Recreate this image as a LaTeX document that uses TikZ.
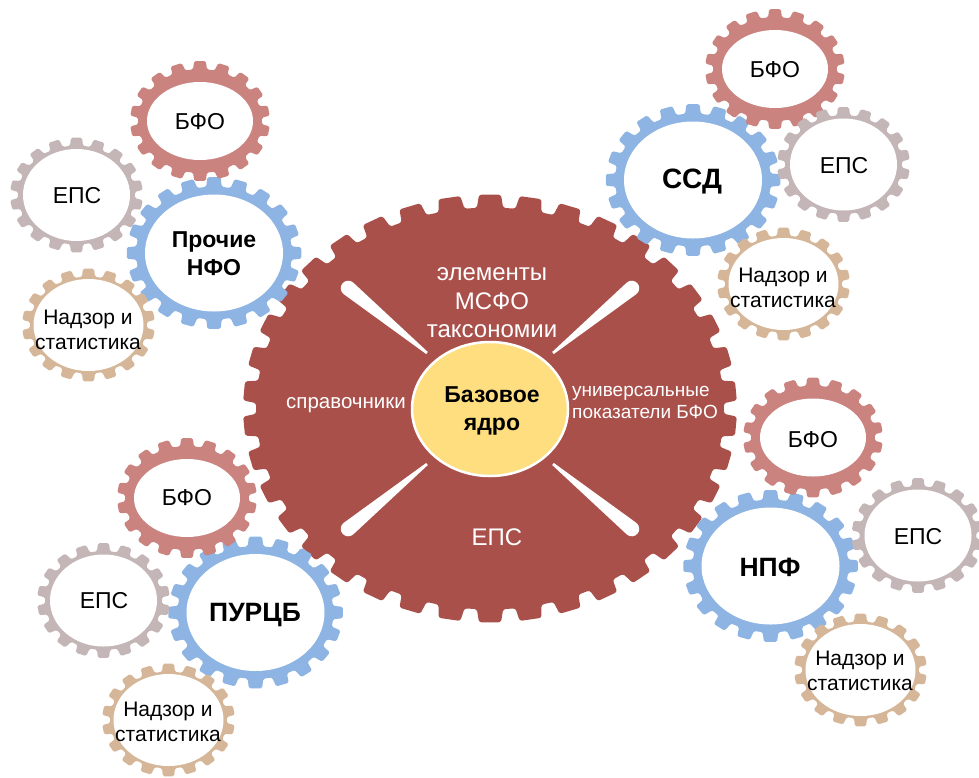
\documentclass[tikz,border=0pt]{standalone}
\usepackage{fontspec}
\setmainfont{Liberation Sans}
\definecolor{gRed}{RGB}{169,80,75}
\definecolor{gYel}{RGB}{255,222,128}
\definecolor{gBlue}{RGB}{141,180,226}
\definecolor{gPink}{RGB}{202,131,126}
\definecolor{gGrey}{RGB}{196,182,183}
\definecolor{gTan}{RGB}{214,182,152}
\newcommand\rootw{0.32}
\newcommand\tipw{0.24}
% #1 options, #2 cx, #3 cy, #4 rx, #5 ry, #6 depth, #7 teeth, #8 phase
\newcommand\gearpath[8]{%
 \path[#1] ({#2+(#4-#6)*cos(#8+180/#7)},{#3+(#5-#6)*sin(#8+180/#7)})
  \foreach \k in {1,...,#7}{
   -- ({#2+(#4-#6)*cos(#8+(\k-\rootw)*360/#7)},{#3+(#5-#6)*sin(#8+(\k-\rootw)*360/#7)})
   -- ({#2+#4*cos(#8+(\k-\tipw)*360/#7)},{#3+#5*sin(#8+(\k-\tipw)*360/#7)})
   -- ({#2+#4*cos(#8+(\k+\tipw)*360/#7)},{#3+#5*sin(#8+(\k+\tipw)*360/#7)})
   -- ({#2+(#4-#6)*cos(#8+(\k+\rootw)*360/#7)},{#3+(#5-#6)*sin(#8+(\k+\rootw)*360/#7)})
  } -- cycle;}
\newcommand\bluegear[2]{\gearpath{fill=gBlue,rounded corners=1.5pt}{#1}{#2}{87.5}{76}{9.5}{20}{0}
 \fill[white] (#1,#2) ellipse [x radius=69pt, y radius=58.5pt];}
\newcommand\pinkgear[2]{\gearpath{fill=gPink,rounded corners=1.5pt}{#1}{#2}{70}{60}{8}{18}{10}
 \fill[white] (#1,#2) ellipse [x radius=53pt, y radius=39pt];}
\newcommand\greygear[2]{\gearpath{fill=gGrey,rounded corners=1.5pt}{#1}{#2}{66.5}{57.5}{8}{18}{10}
 \fill[white] (#1,#2) ellipse [x radius=53.5pt, y radius=46pt];}
\newcommand\tangear[2]{\gearpath{fill=gTan,rounded corners=1.5pt}{#1}{#2}{66.5}{56.5}{8}{18}{10}
 \fill[white] (#1,#2) ellipse [x radius=55pt, y radius=46pt];}
\newcommand\spoke[3]{\begin{scope}[shift={(#1,#2)},rotate=#3]
 \fill[white] (0pt,1.3pt) -- (102pt,7.5pt) arc[start angle=90,end angle=-90,radius=7.5pt] -- (0pt,-1.3pt) -- cycle;
 \end{scope}}
\tikzset{
 lbl/.style={align=center,inner sep=0pt,text=black,font=\fontsize{23}{27}\selectfont},
 blbl/.style={align=center,inner sep=0pt,text=black,font=\fontsize{24}{28}\selectfont\bfseries},
 nlbl/.style={align=center,inner sep=0pt,text=black,font=\fontsize{21}{25.5}\selectfont},
 wlbl/.style={align=center,inner sep=0pt,text=white}
}
\begin{document}
\begin{tikzpicture}[x=1pt,y=-1pt]
\useasboundingbox[fill=white] (0,0) rectangle (979,777);
% central gear
{\renewcommand\rootw{0.34}\renewcommand\tipw{0.27}
\gearpath{fill=gRed,rounded corners=2.5pt}{490}{408.5}{247}{214}{13}{38}{4.7368}}
\spoke{427}{353}{140.55}
\spoke{553}{353}{39.45}
\spoke{427}{464}{219.45}
\spoke{553}{464}{-39.45}
\fill[gYel,draw=white,line width=2.5pt] (490,409) ellipse [x radius=78pt, y radius=67pt];
\node[wlbl,font=\fontsize{24}{28.5}\selectfont] (cTop) at (492,303) {элементы\\МСФО\\таксономии};
\node[wlbl,font=\fontsize{20.5}{24}\selectfont] (cLeft) at (346,405) {справочники};
\node[wlbl,align=left,anchor=west,font=\fontsize{19}{22}\selectfont] (cRight) at (572,402) {универсальные\\показатели БФО};
\node[wlbl,font=\fontsize{24}{28}\selectfont] (cBot) at (497,537) {ЕПС};
\node[align=center,inner sep=0pt,font=\fontsize{23}{28}\selectfont\bfseries] (core) at (492,411) {Базовое\\ядро};
% blue gears
\bluegear{693}{180}
\bluegear{214}{253}
\bluegear{255.5}{612.5}
\bluegear{770.5}{566}
% top right cluster
\pinkgear{775}{69}
\greygear{843.5}{164.5}
\tangear{783.5}{284}
% top left cluster
\pinkgear{200}{121}
\greygear{76.5}{195}
\tangear{88.5}{325}
% bottom left cluster
\pinkgear{187}{498}
\greygear{103.5}{600.5}
\tangear{168.5}{720}
% bottom right cluster
\pinkgear{813}{437.5}
\greygear{918}{535.5}
\tangear{860.5}{670}
% labels
\node[blbl,font=\fontsize{28}{30}\selectfont\bfseries] (ssd) at (692,182) {ССД};
\node[lbl] (bfo1) at (775,70) {БФО};
\node[lbl] (eps1) at (844,166) {ЕПС};
\node[nlbl] (nad1) at (783,288) {Надзор и\\статистика};
\node[blbl,font=\fontsize{23}{28}\selectfont\bfseries] (pnfo) at (214,254) {Прочие\\НФО};
\node[lbl] (bfo2) at (200,122) {БФО};
\node[lbl] (eps2) at (77,196) {ЕПС};
\node[nlbl] (nad2) at (88,330) {Надзор и\\статистика};
\node[blbl,font=\fontsize{26.5}{30}\selectfont\bfseries] (purcb) at (255,615) {ПУРЦБ};
\node[lbl] (bfo3) at (187,498) {БФО};
\node[lbl] (eps3) at (104,601) {ЕПС};
\node[nlbl] (nad3) at (168,722) {Надзор и\\статистика};
\node[blbl,font=\fontsize{26.5}{30}\selectfont\bfseries] (npf) at (770,567) {НПФ};
\node[lbl] (bfo4) at (813,440) {БФО};
\node[lbl] (eps4) at (918,537) {ЕПС};
\node[nlbl] (nad4) at (860,671) {Надзор и\\статистика};
\end{tikzpicture}
\end{document}
